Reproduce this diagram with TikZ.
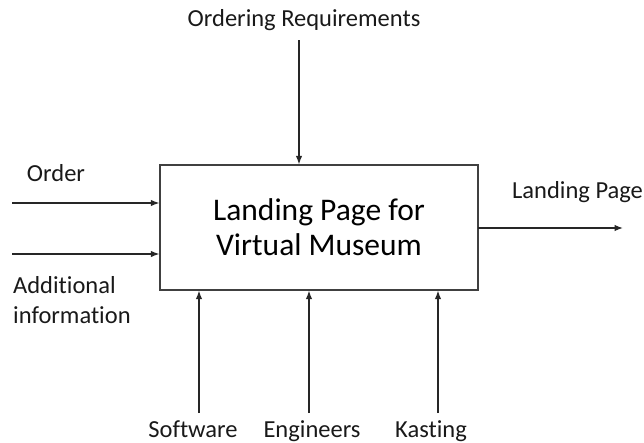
\documentclass[tikz,border=0pt]{standalone}
\usepackage{fontspec}
\setmainfont{Carlito}[Ligatures=NoCommon]
\usetikzlibrary{arrows.meta}
\begin{document}
\begin{tikzpicture}[x=1pt,y=-1pt,
  lbl/.style={font=\fontsize{24.5}{28}\selectfont, text=black!90, inner sep=0pt},
  arr/.style={line width=1.2pt, draw=black!85, -{Latex[length=8.5pt,width=6.5pt]}},
  box/.style={draw=black!75, line width=1.3pt, minimum width=318pt, minimum height=125pt, inner sep=0pt,
    align=center, font=\fontsize{31.5}{35}\selectfont}]
\useasboundingbox (0,0) rectangle (644,442);
\node[box] (m) at (319,227.5) {Landing Page for\\Virtual Museum};
% top
\node[lbl] (req) at (304,20) {Ordering Requirements};
\coordinate (reqs) at (299,40);
\draw[arr] (reqs) -- (m.north -| reqs);
% left
\node[lbl] (ord) at (56,173) {Order};
\coordinate (ords) at (12,203);
\draw[arr] (ords) -- (ords -| m.west);
\node[lbl, align=left, anchor=west, font=\fontsize{24.5}{30}\selectfont] (add) at (13,300) {Additional\\information};
\coordinate (adds) at (12,254);
\draw[arr] (adds) -- (adds -| m.west);
% right
\coordinate (outs) at (478,228);
\coordinate (oute) at (623,228);
\draw[arr] (outs) -- (oute);
\node[lbl, anchor=west] (lp) at (512,192) {Landing Page};
% bottom
\node[lbl, anchor=base] (sw) at (193,437) {Software};
\node[lbl, anchor=base] (en) at (312,437) {Engineers};
\node[lbl, anchor=base] (ka) at (431,437) {Kasting};
\coordinate (sws) at (199,413);
\coordinate (ens) at (309,413);
\coordinate (kas) at (438,413);
\draw[arr] (sws) -- (sws |- m.south);
\draw[arr] (ens) -- (ens |- m.south);
\draw[arr] (kas) -- (kas |- m.south);
\end{tikzpicture}
\end{document}
